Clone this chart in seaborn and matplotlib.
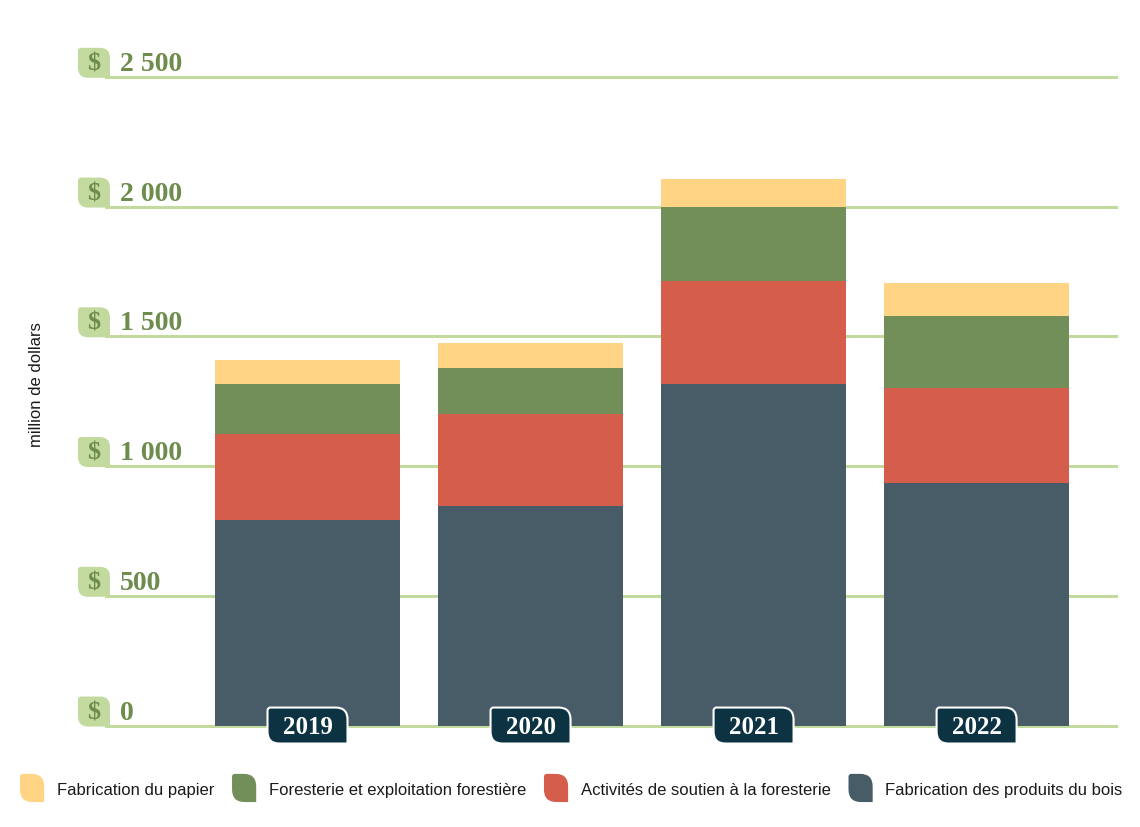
import matplotlib
matplotlib.use("Agg")
import matplotlib.pyplot as plt
import seaborn as sns
import pandas as pd
from matplotlib.path import Path
from matplotlib.patches import PathPatch, Patch
from matplotlib.transforms import IdentityTransform
from matplotlib.legend_handler import HandlerPatch

# données (millions de dollars)
annees = ["2019", "2020", "2021", "2022"]
bois = [792, 847, 1316, 936]
soutien = [331, 355, 399, 363]
foresterie = [193, 177, 282, 278]
papier = [94, 94, 109, 127]

series = ["Fabrication des produits du bois", "Activités de soutien à la foresterie",
          "Foresterie et exploitation forestière", "Fabrication du papier"]
couleurs = ["#475c66", "#d45d4c", "#728f59", "#ffd485"]
graduations = [0, 500, 1000, 1500, 2000, 2500]
etiquettes = ["0", "500", "1 000", "1 500", "2 000", "2 500"]

VERT_CLAIR = "#c3da9f"
VERT_TEXTE = "#6e8c4c"
BLEU_NUIT = "#0d3342"
SERIF = ["Liberation Serif", "DejaVu Serif"]
SANS = ["Liberation Sans", "DejaVu Sans"]

sns.set_style("white")
plt.rcParams["font.family"] = SANS


def feuille(x0, y0, w, h, rb, rs):
    """forme de feuille: coins haut-droit et bas-gauche bien arrondis"""
    M, L, C, Z = Path.MOVETO, Path.LINETO, Path.CURVE3, Path.CLOSEPOLY
    verts = [(x0 + rb, y0), (x0 + w, y0),
             (x0 + w, y0 + h - rb), (x0 + w, y0 + h), (x0 + w - rb, y0 + h),
             (x0 + rs, y0 + h), (x0, y0 + h), (x0, y0 + h - rs),
             (x0, y0 + rb), (x0, y0), (x0 + rb, y0), (x0 + rb, y0)]
    codes = [M, L, L, C, C, L, C, C, L, C, C, Z]
    return Path(verts, codes)


class HandlerFeuille(HandlerPatch):
    def create_artists(self, legend, orig_handle, xdescent, ydescent, width,
                       height, fontsize, trans):
        p = PathPatch(feuille(-xdescent, -ydescent - 4, width, height + 8, 9, 2),
                      facecolor=orig_handle.get_facecolor(), edgecolor="none",
                      transform=trans)
        return [p]


df = pd.DataFrame({"annee": annees, "bois": bois, "soutien": soutien,
                   "foresterie": foresterie, "papier": papier})
cumul = [df["bois"],
         df["bois"] + df["soutien"],
         df["bois"] + df["soutien"] + df["foresterie"],
         df["bois"] + df["soutien"] + df["foresterie"] + df["papier"]]

fig = plt.figure(figsize=(11.4, 8.28), dpi=100)
ax = fig.add_axes([105 / 1140, 0.110, 1013 / 1140, 0.8117])

# barres empilées: du total vers le bas, chaque couche recouvre la précédente
for vals, coul in zip(cumul[::-1], couleurs[::-1]):
    sns.barplot(x=df["annee"], y=vals, color=coul, saturation=1, width=0.83,
                order=annees, ax=ax, zorder=3, linewidth=0, edgecolor="none")

ax.set_xlim(-0.908, 3.634)
ax.set_ylim(-40, 2550)
ax.set_yticks(graduations)
ax.yaxis.grid(True, color=VERT_CLAIR, lw=2.2)
ax.xaxis.grid(False)
ax.set_axisbelow(True)
ax.tick_params(length=0, labelbottom=False, labelleft=False)
ax.set_xlabel(""); ax.set_ylabel("")
sns.despine(ax=ax, left=True, bottom=True)

# étiquettes de l'axe y: pastille "$" + montant
for v, lab in zip(graduations, etiquettes):
    yd = ax.transData.transform((0, v))[1]
    fig.patches.append(PathPatch(feuille(78, yd - 1, 32, 30, 10, 3),
                                 facecolor=VERT_CLAIR, edgecolor="none",
                                 transform=IdentityTransform()))
    fig.text(94, yd + 14, "$", transform=IdentityTransform(), ha="center",
             va="center", fontsize=19, fontweight="bold", family=SERIF,
             color=VERT_TEXTE)
    fig.text(120, yd + 7, lab, transform=IdentityTransform(), ha="left",
             va="baseline", fontsize=20, fontweight="bold", family=SERIF,
             color=VERT_TEXTE)

# pastilles des années sur la ligne de base
for i, an in enumerate(annees):
    xd, yd = ax.transData.transform((i, 0))
    fig.patches.append(PathPatch(feuille(xd - 40, yd - 18, 80, 36, 12, 3),
                                 facecolor=BLEU_NUIT, edgecolor="white", lw=1.5,
                                 transform=IdentityTransform(), zorder=5))
    fig.text(xd, yd - 1, an, transform=IdentityTransform(), ha="center",
             va="center", fontsize=18, fontweight="bold", family=SERIF,
             color="white", zorder=6)

fig.text(37 / 1140, 1 - 385 / 828, "million de dollars", rotation=90,
         ha="center", va="center", fontsize=12, color="#1a1a1a")

poignees = [Patch(facecolor=c) for c in couleurs[::-1]]
fig.legend(poignees, series[::-1], loc="center left",
           bbox_to_anchor=(20 / 1140, 1 - 789 / 828), ncol=4, frameon=False,
           fontsize=12, handlelength=1.45, handleheight=1.2, handletextpad=0.75,
           columnspacing=1.08, borderpad=0, borderaxespad=0,
           handler_map={Patch: HandlerFeuille()}, labelcolor="#1a1a1a")

fig.savefig("out.png", dpi=100)
plt.close(fig)
